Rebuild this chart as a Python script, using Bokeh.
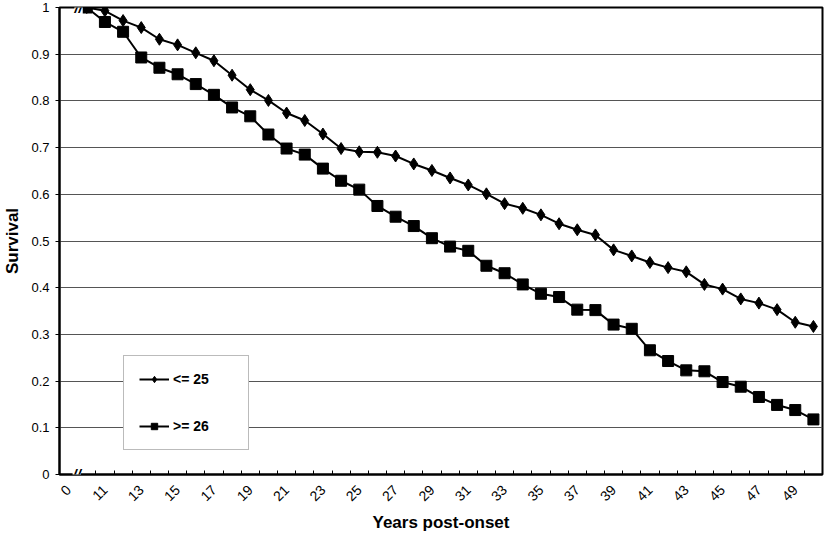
import math
from bokeh.plotting import figure
from bokeh.models import Range1d, FixedTicker, Legend, LegendItem, Label
from bokeh.embed import file_html
from bokeh.resources import INLINE

# ---- data ----
years = list(range(10, 51))
categories = ["0"] + [str(y) for y in years]
series_names = ["<= 25", ">= 26"]
surv_le25 = [1.0, 0.993, 0.972, 0.957, 0.932, 0.920, 0.903, 0.886, 0.855, 0.824,
             0.801, 0.774, 0.758, 0.729, 0.698, 0.691, 0.690, 0.682, 0.665, 0.651,
             0.635, 0.620, 0.601, 0.580, 0.570, 0.556, 0.537, 0.524, 0.513, 0.481,
             0.468, 0.454, 0.443, 0.434, 0.407, 0.397, 0.376, 0.367, 0.353, 0.326,
             0.317]
surv_ge26 = [1.0, 0.969, 0.948, 0.893, 0.871, 0.857, 0.836, 0.813, 0.786, 0.767,
             0.728, 0.698, 0.685, 0.655, 0.629, 0.610, 0.575, 0.552, 0.532, 0.506,
             0.488, 0.479, 0.447, 0.431, 0.407, 0.387, 0.380, 0.353, 0.352, 0.321,
             0.312, 0.266, 0.243, 0.223, 0.221, 0.198, 0.188, 0.166, 0.149, 0.138,
             0.118]
y_ticks = [round(i * 0.1, 1) for i in range(11)]
y_tick_labels = ["0", "0.1", "0.2", "0.3", "0.4", "0.5", "0.6", "0.7", "0.8", "0.9", "1"]
x_title = "Years post-onset"
y_title = "Survival"

FONT = "Liberation Sans"

# category index -> center position on a numeric axis
xs = [categories.index(str(y)) + 0.5 for y in years]
n_cat = len(categories)

p = figure(width=824, height=534,
           x_range=Range1d(0, n_cat), y_range=Range1d(0, 1),
           output_backend="svg", toolbar_location=None,
           min_border_left=52, min_border_right=2, min_border_top=7,
           min_border_bottom=57)
p.background_fill_color = "white"
p.border_fill_color = "white"
p.outline_line_color = "black"
p.outline_line_width = 2

r1l = p.line(xs, surv_le25, line_color="black", line_width=2)
r1m = p.scatter(xs, surv_le25, marker="diamond", size=12,
                fill_color="black", line_color="black")
r2l = p.line(xs, surv_ge26, line_color="black", line_width=2)
r2m = p.scatter(xs, surv_ge26, marker="square", size=11,
                fill_color="black", line_color="black")

# x axis: labels every other category, tick marks at category boundaries
x_label_pos = [i + 0.5 for i in range(0, n_cat, 2)]
xaxis = p.xaxis[0]
xaxis.ticker = FixedTicker(ticks=x_label_pos, minor_ticks=list(range(0, n_cat + 1)))
xaxis.major_label_overrides = {i + 0.5: categories[i] for i in range(0, n_cat, 2)}
xaxis.major_label_orientation = math.pi / 4
xaxis.major_tick_in = 0
xaxis.major_tick_out = 0
xaxis.minor_tick_in = 4
xaxis.minor_tick_out = 0
xaxis.minor_tick_line_color = "black"
xaxis.axis_line_width = 2
xaxis.axis_line_color = "black"
xaxis.major_label_standoff = 13
xaxis.major_label_text_font = FONT
xaxis.major_label_text_font_size = "14px"
xaxis.major_label_text_color = "black"
xaxis.axis_label = x_title
xaxis.axis_label_text_font = FONT
xaxis.axis_label_text_font_size = "17px"
xaxis.axis_label_text_font_style = "bold"
xaxis.axis_label_text_color = "black"
xaxis.axis_label_standoff = 4

yaxis = p.yaxis[0]
yt = FixedTicker(ticks=y_ticks, minor_ticks=[])
yaxis.ticker = yt
yaxis.major_label_overrides = dict(zip(y_ticks, y_tick_labels))
yaxis.major_tick_in = 0
yaxis.major_tick_out = 4
yaxis.minor_tick_in = 0
yaxis.minor_tick_out = 0
yaxis.axis_line_width = 2
yaxis.axis_line_color = "black"
yaxis.major_label_standoff = 6
yaxis.major_label_text_font = FONT
yaxis.major_label_text_font_size = "13px"
yaxis.major_label_text_color = "black"
yaxis.axis_label = y_title
yaxis.axis_label_text_font = FONT
yaxis.axis_label_text_font_size = "17px"
yaxis.axis_label_text_font_style = "bold"
yaxis.axis_label_text_color = "black"
yaxis.axis_label_standoff = 6

p.xgrid.visible = False
p.ygrid.ticker = yt
p.ygrid.grid_line_color = "#555555"
p.ygrid.grid_line_width = 1

legend = Legend(items=[LegendItem(label=series_names[0], renderers=[r1l, r1m]),
                       LegendItem(label=series_names[1], renderers=[r2l, r2m])],
                location=(64, 24))
legend.border_line_color = "#777777"
legend.border_line_width = 1
legend.background_fill_color = "white"
legend.background_fill_alpha = 1
legend.label_text_font = FONT
legend.label_text_font_size = "14px"
legend.label_text_font_style = "bold"
legend.label_text_color = "black"
legend.glyph_width = 30
legend.glyph_height = 16
legend.label_height = 16
legend.label_width = 60
legend.label_standoff = 4
legend.padding = 15
legend.spacing = 31
legend.margin = 0
p.add_layout(legend)

# axis break marks
p.add_layout(Label(x=0.95, y=0, text="//", text_font=FONT, text_font_size="15px",
                   text_font_style="bold italic", text_align="center",
                   text_baseline="middle", text_color="black",
                   background_fill_color="white", background_fill_alpha=1))
p.add_layout(Label(x=1.05, y=1, text="//", text_font=FONT, text_font_size="15px",
                   text_font_style="bold italic", text_align="center",
                   text_baseline="middle", text_color="black",
                   background_fill_color="white", background_fill_alpha=1))

open("out.html", "w").write(file_html(p, INLINE))
